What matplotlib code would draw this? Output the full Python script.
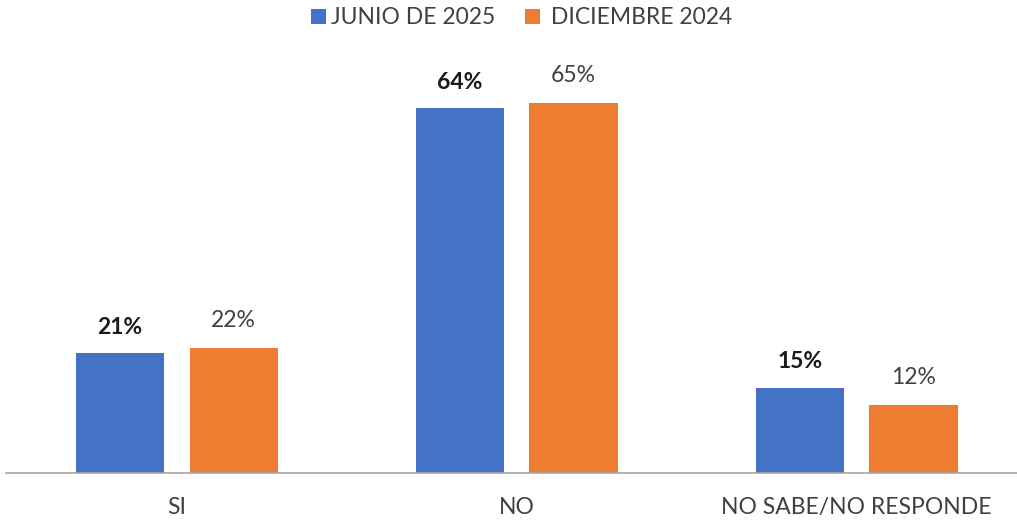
import numpy as np
import matplotlib.pyplot as plt

# Datos
categorias = ['SI', 'NO', 'NO SABE/NO RESPONDE']
junio_2025 = [21, 64, 15]
diciembre_2024 = [22, 65, 12]

color_junio = '#4472C4'
color_dic = '#ED7D31'

plt.rcParams['font.family'] = ['Lato', 'DejaVu Sans']

fig = plt.figure(figsize=(10.17, 5.23), dpi=100)
ax = fig.add_axes([6 / 1017, 50 / 523, 1 - 6 / 1017, 399 / 523])

x = np.arange(len(categorias))
ancho = 0.26
desp = 0.167

b1 = ax.bar(x - desp, junio_2025, ancho, color=color_junio, label='JUNIO DE 2025')
b2 = ax.bar(x + desp, diciembre_2024, ancho, color=color_dic, label=' DICIEMBRE 2024')

# Etiquetas de valores
for rect, v in zip(b1, junio_2025):
    ax.annotate(f"{v}%", (rect.get_x() + rect.get_width() / 2, rect.get_height()),
                xytext=(0, 14), textcoords='offset points', ha='center', va='baseline',
                fontsize=16.5, fontweight='bold', color='#1a1a1a')
for rect, v in zip(b2, diciembre_2024):
    ax.annotate(f"{v}%", (rect.get_x() + rect.get_width() / 2, rect.get_height()),
                xytext=(0, 15), textcoords='offset points', ha='center', va='baseline',
                fontsize=16.5, color='#404040')

ax.set_xlim(-0.503, 2.472)
ax.set_ylim(0, 70)
ax.set_xticks(x)
ax.set_xticklabels(categorias, fontsize=16.5, color='#404040')
ax.tick_params(axis='x', length=0, pad=17)
ax.set_yticks([])

for s in ['top', 'right', 'left']:
    ax.spines[s].set_visible(False)
ax.spines['bottom'].set_color('#A6A6A6')
ax.spines['bottom'].set_linewidth(1.2)

leg = fig.legend(loc='center', bbox_to_anchor=(522 / 1017, 1 - 18 / 523), ncol=2,
                 frameon=False, fontsize=16.5, handlelength=0.65, handleheight=0.65,
                 handletextpad=0.22, columnspacing=1.3, borderpad=0)
for t in leg.get_texts():
    t.set_color('#404040')

fig.savefig('out.png', dpi=100)
